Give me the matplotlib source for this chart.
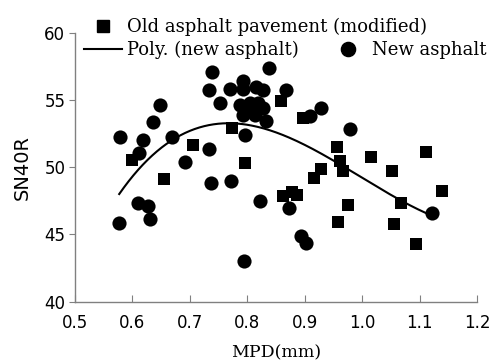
import numpy as np
import matplotlib
matplotlib.use("Agg")
import matplotlib.pyplot as plt
from matplotlib.lines import Line2D

# New asphalt (circles)
new_mpd = [0.578, 0.577, 0.612, 0.618, 0.610, 0.627, 0.630, 0.635, 0.648, 0.669,
           0.691, 0.733, 0.736, 0.771, 0.734, 0.739, 0.752, 0.770, 0.793, 0.793,
           0.816, 0.828, 0.838, 0.867, 0.787, 0.804, 0.819, 0.827, 0.793, 0.813,
           0.804, 0.833, 0.796, 0.794, 0.822, 0.873, 0.893, 0.903, 0.910, 0.929,
           0.978, 1.122]
new_sn = [52.27, 45.87, 51.08, 52.02, 47.36, 47.12, 46.13, 53.36, 54.65, 52.27,
          50.39, 51.35, 48.85, 49.00, 55.72, 57.06, 54.75, 55.81, 56.41, 55.80,
          55.96, 55.76, 57.35, 55.76, 54.63, 54.75, 54.75, 54.38, 53.88, 53.88,
          54.25, 53.40, 52.42, 43.00, 47.51, 46.94, 44.85, 44.35, 53.80, 54.38,
          52.86, 46.57]

# Old asphalt pavement (modified) (squares)
old_mpd = [0.599, 0.655, 0.706, 0.773, 0.796, 0.858, 0.897, 0.862, 0.878, 0.886,
           0.917, 0.929, 0.957, 0.961, 0.966, 0.958, 0.975, 1.016, 1.052, 1.055,
           1.067, 1.094, 1.112, 1.139]
old_sn = [50.54, 49.10, 51.67, 52.92, 50.29, 54.92, 53.63, 47.86, 48.15, 47.93,
          49.17, 49.85, 51.50, 50.45, 49.75, 45.95, 47.19, 50.74, 49.74, 45.78,
          47.31, 44.29, 51.15, 48.25]

# Polynomial trendline (new asphalt)
poly_mpd = [0.577, 0.630, 0.688, 0.746, 0.781, 0.804, 0.857, 0.874, 0.920, 0.932,
            0.978, 1.036, 1.065, 1.094, 1.122]
poly_sn = [48.18, 50.54, 52.27, 53.14, 53.31, 53.21, 52.64, 52.27, 51.28, 51.03,
           49.55, 48.18, 47.43, 46.94, 46.57]

x_ticks = [0.5, 0.6, 0.7, 0.8, 0.9, 1.0, 1.1, 1.2]
y_ticks = [40, 45, 50, 55, 60]

label_old = "Old asphalt pavement (modified)"
label_poly = "Poly. (new asphalt)"
label_new = "New asphalt"

serif = ["DejaVu Serif"]
sans = ["DejaVu Sans"]

fig = plt.figure(figsize=(4.99, 3.63), dpi=100)
ax = fig.add_axes([75 / 499, 1 - 301.7 / 363, (477 - 75) / 499, (301.7 - 32.7) / 363])

ax.scatter(old_mpd, old_sn, marker="s", s=8.6 ** 2, color="black", linewidths=0, zorder=3)
ax.scatter(new_mpd, new_sn, marker="o", s=10.2 ** 2, color="black", linewidths=0, zorder=3)

coef = np.polyfit(poly_mpd, poly_sn, 3)
xs = np.linspace(min(poly_mpd), max(poly_mpd), 200)
ax.plot(xs, np.polyval(coef, xs), color="black", lw=1.5, zorder=4)

ax.set_xlim(0.5, 1.2)
ax.set_ylim(40, 60)
ax.set_xticks(x_ticks)
ax.set_xticklabels([f"{v:.1f}" for v in x_ticks], family=sans, fontsize=12)
ax.set_yticks(y_ticks)
ax.set_yticklabels([str(v) for v in y_ticks], family=sans, fontsize=12)
for s in ["top", "right"]:
    ax.spines[s].set_visible(False)
for s in ["left", "bottom"]:
    ax.spines[s].set_color("#808080")
    ax.spines[s].set_linewidth(1.0)
ax.tick_params(axis="x", direction="in", length=5, color="#808080", pad=8.5)
ax.tick_params(axis="y", direction="out", length=4, color="#808080", pad=3)

ax.set_xlabel("MPD(mm)", family=serif, fontsize=12.5, labelpad=9.5)
ax.set_ylabel("SN40R", family=sans, fontsize=14, labelpad=9)

h_old = Line2D([], [], marker="s", color="black", ls="none", markersize=8.6)
h_poly = Line2D([], [], color="black", lw=1.5)
h_new = Line2D([], [], marker="o", color="black", ls="none", markersize=10.2)

leg1 = fig.legend([h_old, h_poly], [label_old, label_poly], loc="upper left",
                  bbox_to_anchor=(84 / 499, 1 - 18 / 363), frameon=False,
                  borderpad=0, borderaxespad=0, handlelength=2.1, handletextpad=0.3,
                  labelspacing=0.25, prop={"family": serif, "size": 13})
leg2 = fig.legend([h_new], [label_new], loc="center left",
                  bbox_to_anchor=(329 / 499, 1 - 50 / 363), frameon=False,
                  borderpad=0, borderaxespad=0, handlelength=2.1, handletextpad=0.3,
                  prop={"family": serif, "size": 13})

fig.savefig("out.png", dpi=100)
